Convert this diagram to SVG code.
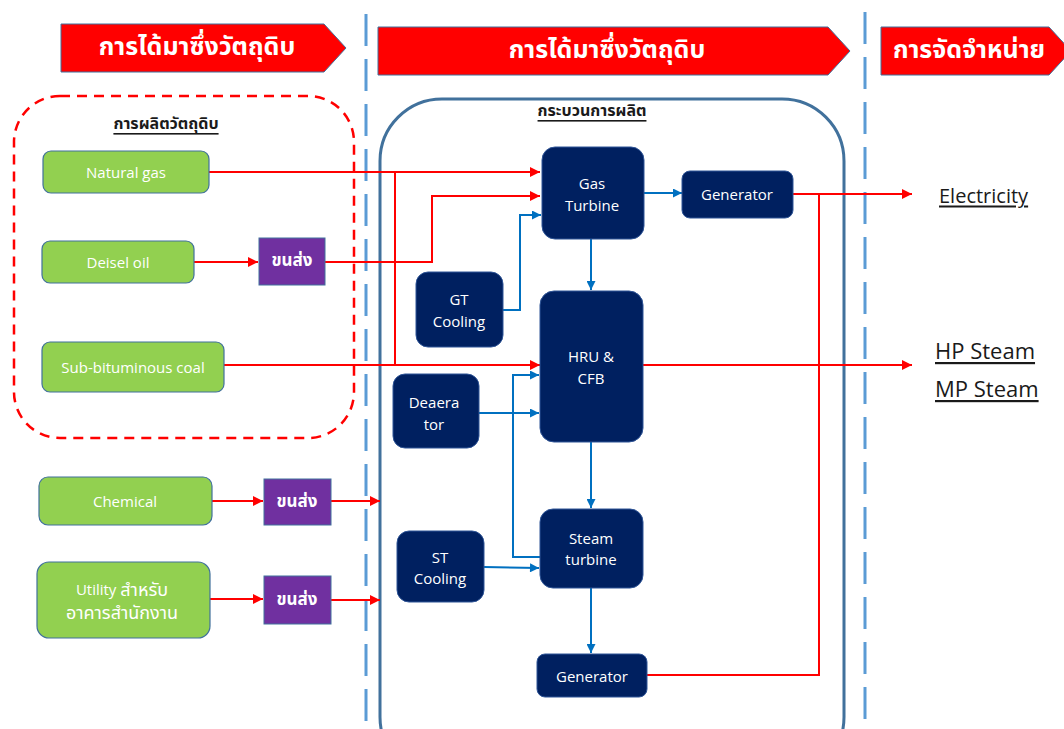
<svg xmlns="http://www.w3.org/2000/svg" width="1064" height="729" viewBox="0 0 1064 729">
<style>
.hdr{fill:#FF0000;stroke:#41719C;stroke-width:1}
.hdrt{fill:#FFFFFF;font-family:"Noto Sans Thai","Noto Sans","Liberation Sans",sans-serif;font-size:25px;font-weight:bold;text-anchor:middle;dominant-baseline:central}
.green{fill:#92D050;stroke:#41719C;stroke-width:1.2}
.purple{fill:#7030A0;stroke:#41719C;stroke-width:1}
.navy{fill:#002060;stroke:#2F5597;stroke-width:1}
.t{fill:#FFFFFF;font-family:"Open Sans","Noto Sans Thai","Noto Sans",sans-serif;font-size:15px;text-anchor:middle;dominant-baseline:central}
.th{font-size:18px}
.tb{fill:#FFFFFF;font-family:"Noto Sans Thai","Noto Sans",sans-serif;font-size:17px;font-weight:bold;text-anchor:middle;dominant-baseline:central}
.red{fill:none;stroke:#FF0000;stroke-width:2}
.blue{fill:none;stroke:#0070C0;stroke-width:2}
.vdash{stroke:#5B9BD5;stroke-width:3;stroke-dasharray:32 13}
.out{fill:#1A1A1A;font-family:"Open Sans","Noto Sans",sans-serif;font-size:20px;text-decoration:underline;dominant-baseline:central}
.sec{fill:#1A1A1A;font-family:"Noto Sans Thai","Noto Sans",sans-serif;font-size:16px;font-weight:bold;text-decoration:underline;text-anchor:middle;dominant-baseline:central}
</style>
<defs>
<marker id="ar" viewBox="0 0 10 10" refX="10" refY="5" markerWidth="11" markerHeight="10" markerUnits="userSpaceOnUse" orient="auto"><path d="M0,0 L10,5 L0,10 z" fill="#FF0000"/></marker>
<marker id="ab" viewBox="0 0 10 10" refX="10" refY="5" markerWidth="10" markerHeight="9" markerUnits="userSpaceOnUse" orient="auto"><path d="M0,0 L10,5 L0,10 z" fill="#0070C0"/></marker>
</defs>

<g id="headers">
<path class="hdr" d="M61,24 H324 L346,48 L324,72 H61 Z"/>
<text class="hdrt" x="197" y="47">การได้มาซึ่งวัตถุดิบ</text>
<path class="hdr" d="M378,27 H828 L850,51 L828,75 H378 Z"/>
<text class="hdrt" x="607" y="50">การได้มาซึ่งวัตถุดิบ</text>
<path class="hdr" d="M881,27 H1049 L1071,51 L1049,75 H881 Z"/>
<text class="hdrt" x="969" y="50">การจัดจำหน่าย</text>
</g>

<g id="dividers">
<line class="vdash" x1="366" y1="14" x2="366" y2="729"/>
<line class="vdash" x1="865" y1="12" x2="865" y2="729"/>
</g>

<g id="raw-material-group">
<rect x="14" y="96" width="340" height="342" rx="46" fill="none" stroke="#FF0000" stroke-width="2.5" stroke-dasharray="10 7"/>
<text class="sec" x="166" y="124">การผลิตวัตถุดิบ</text>
</g>

<g id="process-container">
<rect x="380" y="99" width="464" height="680" rx="62" fill="none" stroke="#41719C" stroke-width="3"/>
<text class="sec" x="592" y="111">กระบวนการผลิต</text>
</g>

<g id="connectors">
<polyline class="red" points="209,172 540,172" marker-end="url(#ar)"/>
<polyline class="red" points="395,172 395,365"/>
<polyline class="red" points="224,365 540,365" marker-end="url(#ar)"/>
<polyline class="red" points="194,262 258,262" marker-end="url(#ar)"/>
<polyline class="red" points="325,262 432,262 432,196 540,196" marker-end="url(#ar)"/>
<polyline class="red" points="212,501 263,501" marker-end="url(#ar)"/>
<polyline class="red" points="331,501 380,501" marker-end="url(#ar)"/>
<polyline class="red" points="210,599 263,599" marker-end="url(#ar)"/>
<polyline class="red" points="331,600 380,600" marker-end="url(#ar)"/>
<polyline class="red" points="793,194 912,194" marker-end="url(#ar)"/>
<polyline class="red" points="647,675 819,675 819,194"/>
<polyline class="red" points="643,365 912,365" marker-end="url(#ar)"/>
<polyline class="blue" points="644,193 682,193" marker-end="url(#ab)"/>
<polyline class="blue" points="503,310 520,310 520,215 541,215" marker-end="url(#ab)"/>
<polyline class="blue" points="591,239 591,290" marker-end="url(#ab)"/>
<polyline class="blue" points="479,413 539,413" marker-end="url(#ab)"/>
<polyline class="blue" points="540,557 513,557 513,375 539,375" marker-end="url(#ab)"/>
<polyline class="blue" points="484,567 539,568" marker-end="url(#ab)"/>
<polyline class="blue" points="591,442 591,508" marker-end="url(#ab)"/>
<polyline class="blue" points="591,588 591,653" marker-end="url(#ab)"/>
</g>

<g id="natural-gas"><rect class="green" x="43" y="151" width="166" height="42" rx="8"/><text class="t" x="126" y="172">Natural gas</text></g>
<g id="deisel-oil"><rect class="green" x="42" y="241" width="152" height="42" rx="8"/><text class="t" x="118" y="262">Deisel oil</text></g>
<g id="coal"><rect class="green" x="42" y="342" width="182" height="50" rx="8"/><text class="t" x="133" y="367">Sub-bituminous coal</text></g>
<g id="chemical"><rect class="green" x="39" y="477" width="173" height="48" rx="9"/><text class="t" x="125" y="501">Chemical</text></g>
<g id="utility"><rect class="green" x="37" y="562" width="173" height="76" rx="12"/><text class="t" x="122" y="589">Utility <tspan class="th">สำหรับ</tspan></text><text class="t th" x="122" y="612">อาคารสำนักงาน</text></g>

<g id="transport-1"><rect class="purple" x="259" y="238" width="66" height="47"/><text class="tb" x="292" y="261">ขนส่ง</text></g>
<g id="transport-2"><rect class="purple" x="264" y="479" width="67" height="46"/><text class="tb" x="297" y="502">ขนส่ง</text></g>
<g id="transport-3"><rect class="purple" x="264" y="576" width="67" height="48"/><text class="tb" x="297" y="600">ขนส่ง</text></g>

<g id="gas-turbine"><rect class="navy" x="542" y="147" width="102" height="92" rx="13"/><text class="t" x="592" y="183">Gas</text><text class="t" x="592" y="205">Turbine</text></g>
<g id="generator-1"><rect class="navy" x="682" y="171" width="111" height="47" rx="8"/><text class="t" x="737" y="194">Generator</text></g>
<g id="gt-cooling"><rect class="navy" x="416" y="272" width="87" height="75" rx="12"/><text class="t" x="459" y="299">GT</text><text class="t" x="459" y="321">Cooling</text></g>
<g id="hru-cfb"><rect class="navy" x="540" y="291" width="103" height="151" rx="14"/><text class="t" x="591" y="356">HRU &amp;</text><text class="t" x="591" y="378">CFB</text></g>
<g id="deaerator"><rect class="navy" x="393" y="374" width="86" height="74" rx="12"/><text class="t" x="434" y="402">Deaera</text><text class="t" x="434" y="424">tor</text></g>
<g id="steam-turbine"><rect class="navy" x="540" y="509" width="103" height="79" rx="13"/><text class="t" x="591" y="538">Steam</text><text class="t" x="591" y="559">turbine</text></g>
<g id="st-cooling"><rect class="navy" x="397" y="531" width="87" height="71" rx="12"/><text class="t" x="440" y="557">ST</text><text class="t" x="440" y="578">Cooling</text></g>
<g id="generator-2"><rect class="navy" x="537" y="654" width="110" height="43" rx="8"/><text class="t" x="592" y="676">Generator</text></g>

<g id="outputs">
<text class="out" x="939" y="195">Electricity</text>
<text class="out" x="935" y="350" style="font-size:22px">HP Steam</text>
<text class="out" x="935" y="388" style="font-size:22px">MP Steam</text>
</g>
</svg>
